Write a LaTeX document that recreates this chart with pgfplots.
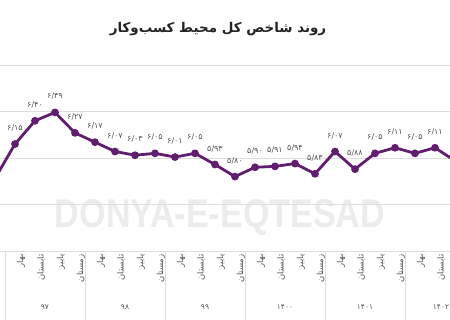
\documentclass[border=0pt]{standalone}
\usepackage{pgfplots}
\pgfplotsset{compat=1.18}
\usepackage{pgfplotstable}
\usepackage{fontspec}
\setmainfont{DejaVu Sans}
\newfontfamily\fa[Script=Arabic]{DejaVu Sans}
\newfontfamily\wm{Liberation Sans}
\TeXXeTstate=1
\definecolor{linepurple}{RGB}{98,30,110}
\definecolor{gridc}{RGB}{222,222,222}
\definecolor{lblc}{RGB}{85,85,85}
\definecolor{wmc}{RGB}{236,236,236}
\definecolor{titlec}{RGB}{35,35,35}

\pgfplotstableread{
x y lbl
0 5.78 ۵/۷۸
1 6.15 ۶/۱۵
2 6.40 ۶/۴۰
3 6.49 ۶/۴۹
4 6.27 ۶/۲۷
5 6.17 ۶/۱۷
6 6.07 ۶/۰۷
7 6.03 ۶/۰۳
8 6.05 ۶/۰۵
9 6.01 ۶/۰۱
10 6.05 ۶/۰۵
11 5.93 ۵/۹۳
12 5.80 ۵/۸۰
13 5.90 ۵/۹۰
14 5.91 ۵/۹۱
15 5.94 ۵/۹۴
16 5.83 ۵/۸۳
17 6.07 ۶/۰۷
18 5.88 ۵/۸۸
19 6.05 ۶/۰۵
20 6.11 ۶/۱۱
21 6.05 ۶/۰۵
22 6.11 ۶/۱۱
23 5.97 ۵/۹۷
}\datatable

\begin{document}
\begin{tikzpicture}
\useasboundingbox (0,0) rectangle (450bp,320bp);
\clip (0,0) rectangle (450bp,320bp);
\node[text=wmc, font=\wm\bfseries, inner sep=0] at (220bp,103bp) {\resizebox{330bp}{28bp}{DONYA-E-EQTESAD}};
\node[text=titlec, font=\fa\bfseries\fontsize{13.5}{15}\selectfont, inner sep=0] at (218bp,291bp) {\beginR روند شاخص کل محیط کسب‌وکار\endR};
\begin{axis}[
  at={(0,69bp)}, anchor=south west, scale only axis,
  width=450bp, height=186bp,
  xmin=0.25, xmax=22.75, ymin=5, ymax=7,
  axis line style={draw=none},
  ytick={5,5.5,6,6.5,7}, yticklabels={},
  ymajorgrids, grid style={gridc, line width=0.8bp},
  major tick length=0,
  xtick pos=bottom, ytick pos=left,
  xtick={1,...,22},
  xticklabels={بهار,تابستان,پاییز,زمستان,بهار,تابستان,پاییز,زمستان,بهار,تابستان,پاییز,زمستان,بهار,تابستان,پاییز,زمستان,بهار,تابستان,پاییز,زمستان,بهار,تابستان},
  xticklabel style={rotate=90, anchor=east, font=\fa\fontsize{8.5}{9}\selectfont, text=lblc, yshift=-6bp},
  extra x ticks={0.5,4.5,8.5,12.5,16.5,20.5},
  extra x tick labels={},
  extra x tick style={major tick length=70bp, tick align=outside, tick style={gridc, line width=0.8bp}, grid=none},
  clip mode=individual,
]
\addplot[linepurple, line width=2.8bp, mark=*, mark size=2.4bp, mark options={fill=linepurple, draw=linepurple},
  nodes near coords, point meta=explicit symbolic,
  nodes near coords style={font=\fa\fontsize{8}{9}\selectfont, text=lblc, anchor=south, yshift=8bp}]
  table[x=x, y=y, meta=lbl] {\datatable};
\foreach \xx/\yy in {2.5/۹۷, 6.5/۹۸, 10.5/۹۹, 14.5/۱۴۰۰, 18.5/۱۴۰۱, 22.3/۱۴۰۲} {
  \edef\temp{\noexpand\node[font=\noexpand\fa\noexpand\fontsize{7.5}{8}\noexpand\selectfont, text=lblc] at (axis cs:\xx,5) [yshift=-56bp] {\yy};}
  \temp
}
\end{axis}
\end{tikzpicture}
\end{document}
